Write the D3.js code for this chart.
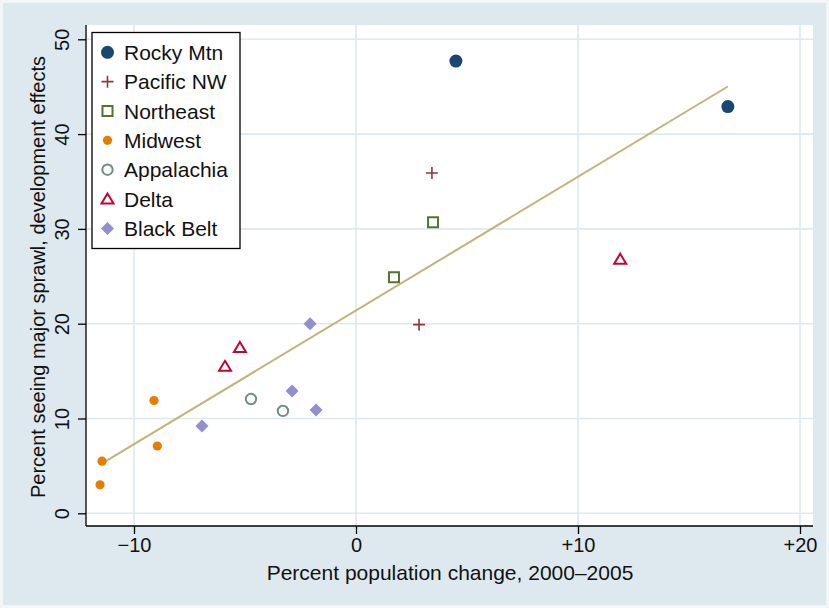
<!DOCTYPE html>
<html>
<head>
<meta charset="utf-8">
<script src="https://cdn.jsdelivr.net/npm/d3@7"></script>
<style>
  body { margin: 0; background: #f2f6f8; }
  svg { display: block; }
  text { font-family: "Liberation Sans", Arial, Helvetica, sans-serif; fill: #111; }
</style>
</head>
<body>
<svg id="chart" width="829" height="608"></svg>
<script>
// regions and their points (x = % population change, y = % seeing sprawl)
const regions = ["Rocky Mtn", "Pacific NW", "Northeast", "Midwest", "Appalachia", "Delta", "Black Belt"];
const rockyMtn   = [[4.5, 47.7], [16.75, 42.9]];
const pacificNW  = [[3.42, 35.9], [2.84, 19.9]];
const northeast  = [[3.47, 30.7], [1.71, 24.9]];
const midwest    = [[-9.1, 11.9], [-8.95, 7.1], [-11.44, 5.5], [-11.53, 3.0]];
const appalachia = [[-4.73, 12.05], [-3.29, 10.8]];
const delta      = [[-5.23, 17.5], [-5.9, 15.5], [11.9, 26.8]];
const blackBelt  = [[-2.07, 20.0], [-2.88, 12.9], [-1.8, 10.9], [-6.94, 9.2]];
const xTicks = [-10, 0, 10, 20];
const xTickLabels = ["\u221210", "0", "+10", "+20"];
const yTicks = [0, 10, 20, 30, 40, 50];

const series = [rockyMtn, pacificNW, northeast, midwest, appalachia, delta, blackBelt];
const colors = ["#1a476f", "#90353b", "#55752f", "#e37e00", "#6e8e84", "#c10534", "#938dd2"];

const svg = d3.select("#chart");
const width = +svg.attr("width");
const height = +svg.attr("height");

// graph region
svg.append("rect")
    .attr("x", 3).attr("y", 3)
    .attr("width", width - 6).attr("height", height - 6)
    .attr("fill", "#dde9ef");

const plot = { left: 86, right: 813, top: 25, bottom: 526 };

const x = d3.scaleLinear().domain([-10, 20]).range([134, 800]);
const y = d3.scaleLinear().domain([0, 50]).range([513.3, 39.3]);

svg.append("rect")
    .attr("x", plot.left).attr("y", plot.top)
    .attr("width", plot.right - plot.left).attr("height", plot.bottom - plot.top)
    .attr("fill", "#fff");

// grid
const grid = svg.append("g").attr("stroke", "#dde9ef").attr("stroke-width", 1.6);
grid.selectAll("line.gy").data(yTicks).join("line")
    .attr("x1", plot.left).attr("x2", plot.right)
    .attr("y1", d => y(d)).attr("y2", d => y(d));
grid.selectAll("line.gx").data(xTicks).join("line")
    .attr("y1", plot.top).attr("y2", plot.bottom)
    .attr("x1", d => x(d)).attr("x2", d => x(d));

// axes
const xAxis = svg.append("g")
    .attr("transform", `translate(0,${plot.bottom})`)
    .call(d3.axisBottom(x).tickValues(xTicks).tickSize(8).tickPadding(4)
        .tickFormat((d, i) => xTickLabels[i]));
xAxis.select(".domain").attr("d", `M${plot.left},0H${plot.right}`).attr("stroke", "#000").attr("stroke-width", 1.3);
xAxis.selectAll(".tick line").attr("stroke", "#000").attr("stroke-width", 1.3);
xAxis.selectAll(".tick text").attr("font-size", 20).attr("fill", "#111")
    .attr("font-family", "Liberation Sans, Arial, sans-serif");

const yAxis = svg.append("g")
    .attr("transform", `translate(${plot.left},0)`)
    .call(d3.axisLeft(y).tickValues(yTicks).tickSize(8).tickFormat(d3.format("d")));
yAxis.select(".domain").attr("d", `M0,${plot.top}V${plot.bottom}`).attr("stroke", "#000").attr("stroke-width", 1.3);
yAxis.selectAll(".tick line").attr("stroke", "#000").attr("stroke-width", 1.3);
yAxis.selectAll(".tick text")
    .attr("font-size", 20).attr("fill", "#111")
    .attr("font-family", "Liberation Sans, Arial, sans-serif")
    .attr("x", null).attr("dy", null)
    .attr("text-anchor", "middle")
    .attr("transform", "translate(-17,0) rotate(-90)");

// axis titles
svg.append("text")
    .attr("x", 450).attr("y", 580)
    .attr("text-anchor", "middle").attr("font-size", 21)
    .text("Percent population change, 2000\u20132005");
svg.append("text")
    .attr("transform", `translate(45,277) rotate(-90)`)
    .attr("text-anchor", "middle").attr("font-size", 20)
    .text("Percent seeing major sprawl, development effects");

// linear fit over all points
const all = series.flat();
const mx = d3.mean(all, d => d[0]), my = d3.mean(all, d => d[1]);
const slope = d3.sum(all, d => (d[0] - mx) * (d[1] - my)) / d3.sum(all, d => (d[0] - mx) ** 2);
const icpt = my - slope * mx;
const [x0, x1] = d3.extent(all, d => d[0]);
svg.append("line")
    .attr("x1", x(x0)).attr("y1", y(icpt + slope * x0))
    .attr("x2", x(x1)).attr("y2", y(icpt + slope * x1))
    .attr("stroke", "#bdb57a").attr("stroke-width", 2);

// marker drawing
function marker(g, i) {
    const c = colors[i];
    if (i === 0) {
        g.append("circle").attr("r", 6.5).attr("fill", c);
    } else if (i === 1) {
        g.append("path").attr("d", "M-6,0H6M0,-6V6").attr("stroke", c).attr("stroke-width", 1.6);
    } else if (i === 2) {
        g.append("rect").attr("x", -5).attr("y", -5).attr("width", 10).attr("height", 10)
            .attr("fill", "none").attr("stroke", c).attr("stroke-width", 2);
    } else if (i === 3) {
        g.append("circle").attr("r", 4.6).attr("fill", c);
    } else if (i === 4) {
        g.append("circle").attr("r", 5.2).attr("fill", "none").attr("stroke", c).attr("stroke-width", 2);
    } else if (i === 5) {
        g.append("path").attr("d", "M0,-5.5L6,4.5H-6Z")
            .attr("fill", "none").attr("stroke", c).attr("stroke-width", 2);
    } else {
        g.append("path").attr("d", "M0,-6.5L6.5,0L0,6.5L-6.5,0Z").attr("fill", c);
    }
}

series.forEach((pts, i) => {
    svg.append("g").selectAll("g").data(pts).join("g")
        .attr("transform", d => `translate(${x(d[0])},${y(d[1])})`)
        .each(function() { marker(d3.select(this), i); });
});

// legend
const legend = svg.append("g");
legend.append("rect")
    .attr("x", 92).attr("y", 32.5).attr("width", 148).attr("height", 216)
    .attr("fill", "#fff").attr("stroke", "#000").attr("stroke-width", 1.3);
regions.forEach((name, i) => {
    const cy = 52.3 + i * 29.35;
    const g = legend.append("g").attr("transform", `translate(107.5,${cy})`);
    marker(g, i);
    legend.append("text")
        .attr("x", 124).attr("y", cy + 7.5)
        .attr("font-size", 21)
        .text(name);
});
</script>
</body>
</html>
